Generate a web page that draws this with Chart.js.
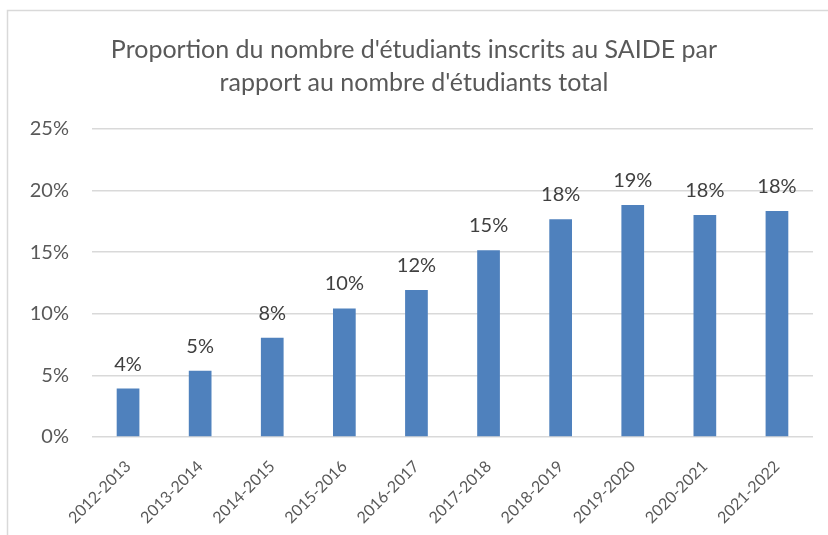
<!DOCTYPE html>
<html>
<head>
<meta charset="utf-8">
<script src="https://cdn.jsdelivr.net/npm/chart.js@4/dist/chart.umd.min.js"></script>
<style>
  html, body { margin: 0; padding: 0; background: #fff; overflow: hidden; }
  #wrap { position: relative; width: 828px; height: 535px; }
</style>
</head>
<body>
<div id="wrap"><canvas id="chart" width="828" height="535"></canvas></div>
<script>
// données
const years = ['2012-2013', '2013-2014', '2014-2015', '2015-2016', '2016-2017',
               '2017-2018', '2018-2019', '2019-2020', '2020-2021', '2021-2022'];
const shares = [3.93, 5.37, 8.05, 10.44, 11.93, 15.15, 17.67, 18.84, 18.02, 18.35];
const yTicks = [0, 5, 10, 15, 20, 25];
const titleLines = ["Proportion du nombre d'étudiants inscrits au SAIDE par",
                    "rapport au nombre d'étudiants total"];

const FONT = 'Lato, "Open Sans", sans-serif';

// cadre gris du graphique (coupé à droite et en bas)
const framePlugin = {
    id: 'frame',
    beforeDraw(chart) {
        const ctx = chart.ctx;
        ctx.save();
        ctx.fillStyle = '#ffffff';
        ctx.fillRect(0, 0, chart.width, chart.height);
        ctx.strokeStyle = '#d9d9d9';
        ctx.lineWidth = 1.5;
        ctx.strokeRect(7.5, 10.5, 1000, 1000);
        ctx.restore();
    }
};

// étiquettes de valeur au-dessus des barres
const valueLabels = {
    id: 'valueLabels',
    afterDatasetsDraw(chart) {
        const ctx = chart.ctx;
        const meta = chart.getDatasetMeta(0);
        ctx.save();
        ctx.font = '20px ' + FONT;
        ctx.fillStyle = '#404040';
        ctx.textAlign = 'center';
        ctx.textBaseline = 'alphabetic';
        meta.data.forEach((bar, i) => {
            ctx.fillText(Math.round(shares[i]) + '%', bar.x, bar.y - 18);
        });
        ctx.restore();
    }
};

new Chart(document.getElementById('chart').getContext('2d'), {
    type: 'bar',
    data: {
        labels: years,
        datasets: [{
            data: shares,
            backgroundColor: '#4f81bd',
            borderWidth: 0,
            barPercentage: 0.315,
            categoryPercentage: 1
        }]
    },
    options: {
        responsive: false,
        animation: false,
        layout: { padding: { left: 15, right: 15, top: 0, bottom: 0 } },
        plugins: {
            legend: { display: false },
            tooltip: { enabled: false },
            title: {
                display: true,
                text: titleLines,
                color: '#595959',
                font: { family: FONT, size: 25, weight: 'normal', lineHeight: 1.32 },
                padding: { top: 33, bottom: 30 }
            }
        },
        scales: {
            x: {
                grid: { display: false },
                border: { display: false },
                ticks: {
                    color: '#595959',
                    font: { family: FONT, size: 16 },
                    minRotation: 45,
                    maxRotation: 45,
                    padding: 12
                },
                afterFit(scale) { scale.height = 98; }
            },
            y: {
                min: 0,
                max: 25,
                afterBuildTicks(scale) { scale.ticks = yTicks.map(v => ({ value: v })); },
                grid: { color: '#d9d9d9', lineWidth: 1.5, drawTicks: false },
                border: { display: false },
                ticks: {
                    color: '#595959',
                    font: { family: FONT, size: 20 },
                    padding: 23,
                    callback: v => v + '%'
                },
                afterFit(scale) { scale.width = 77; }
            }
        }
    },
    plugins: [framePlugin, valueLabels]
});
</script>
</body>
</html>
